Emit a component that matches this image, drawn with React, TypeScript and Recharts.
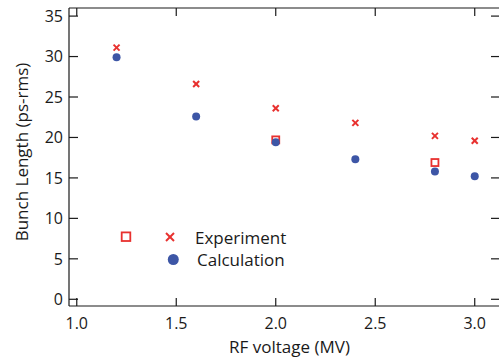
import { ScatterChart, Scatter, XAxis, YAxis } from "recharts";

// bunch length vs RF voltage
const VOLTAGE = [1.2, 1.6, 2.0, 2.4, 2.8, 3.0];
const EXPERIMENT = [31.1, 26.6, 23.6, 21.8, 20.2, 19.6];
const CALCULATION = [29.9, 22.6, 19.4, 17.3, 15.8, 15.2];
// the two open squares
const SQUARE_VOLTAGE = [2.0, 2.8];
const SQUARE_LENGTH = [19.7, 16.9];

const X_TICKS = [1.0, 1.5, 2.0, 2.5, 3.0];
const Y_TICKS = [0, 5, 10, 15, 20, 25, 30, 35];
const X_DOMAIN = [0.961, 3.127];
const Y_DOMAIN = [-0.83, 36];

const RED = "#e8312f";
const BLUE = "#3d56a6";
const INK = "#1a1a1a";
const FONT = "'Open Sans', sans-serif";

const expData = VOLTAGE.map((v, i) => ({ v, l: EXPERIMENT[i] }));
const calcData = VOLTAGE.map((v, i) => ({ v, l: CALCULATION[i] }));
const sqData = SQUARE_VOLTAGE.map((v, i) => ({ v, l: SQUARE_LENGTH[i] }));

const TICK = { fill: INK, fontSize: 16, fontFamily: FONT } as const;
const AXIS_LINE = { stroke: INK, strokeWidth: 1.2 } as const;

function Cross({ cx, cy, r = 3 }: any) {
  return (
    <g stroke={RED} strokeWidth={2}>
      <line x1={cx - r} y1={cy - r} x2={cx + r} y2={cy + r} />
      <line x1={cx - r} y1={cy + r} x2={cx + r} y2={cy - r} />
    </g>
  );
}

function Square({ cx, cy, r = 3.5 }: any) {
  return <rect x={cx - r} y={cy - r} width={2 * r} height={2 * r} fill="#fff" stroke={RED} strokeWidth={1.8} />;
}

function Dot({ cx, cy, r = 4 }: any) {
  return <circle cx={cx} cy={cy} r={r} fill={BLUE} />;
}

const noLabel = () => <g />;

export default function App() {
  return (
    <div style={{ position: "relative", width: 499, height: 361, overflow: "hidden", background: "#fff" }}>
      <style>{"body{margin:0}"}</style>
      <ScatterChart width={501} height={361} margin={{ top: 0, right: 0, bottom: 0, left: 0 }}>
        <XAxis
          type="number"
          dataKey="v"
          domain={X_DOMAIN}
          ticks={X_TICKS}
          allowDataOverflow
          tickFormatter={(v) => Number(v).toFixed(1)}
          tick={TICK}
          axisLine={AXIS_LINE}
          tickLine={AXIS_LINE}
          tickSize={-8}
          tickMargin={20}
          height={55}
          label={{ value: "RF voltage (MV)", position: "insideBottom", offset: 8, dx: 5, fill: INK, fontSize: 17, fontFamily: FONT }}
        />
        <XAxis
          xAxisId="top"
          orientation="top"
          type="number"
          dataKey="v"
          domain={X_DOMAIN}
          ticks={X_TICKS}
          allowDataOverflow
          tick={noLabel}
          axisLine={AXIS_LINE}
          tickLine={AXIS_LINE}
          tickSize={-8}
          height={8}
        />
        <YAxis
          type="number"
          dataKey="l"
          domain={Y_DOMAIN}
          ticks={Y_TICKS}
          allowDataOverflow
          tick={TICK}
          axisLine={AXIS_LINE}
          tickLine={AXIS_LINE}
          tickSize={-9}
          tickMargin={15}
          width={69}
          label={{ value: "Bunch Length (ps-rms)", angle: -90, position: "center", dx: -13, dy: -5, fill: INK, fontSize: 17, fontFamily: FONT }}
        />
        <YAxis
          yAxisId="right"
          orientation="right"
          type="number"
          dataKey="l"
          domain={Y_DOMAIN}
          ticks={Y_TICKS}
          allowDataOverflow
          tick={noLabel}
          axisLine={AXIS_LINE}
          tickLine={AXIS_LINE}
          tickSize={-9}
          width={1}
        />
        <Scatter data={sqData} shape={<Square />} isAnimationActive={false} />
        <Scatter data={calcData} shape={<Dot />} isAnimationActive={false} />
        <Scatter data={expData} shape={<Cross />} isAnimationActive={false} />
      </ScatterChart>
      {/* legend */}
      <svg width={200} height={50} style={{ position: "absolute", left: 110, top: 222 }}>
        <Square cx={16} cy={14.7} r={4.3} />
        <Cross cx={60} cy={15} r={4} />
        <text x={85} y={15} dominantBaseline="central" fontSize={17} fontFamily={FONT} fill={INK}>Experiment</text>
        <Dot cx={63.3} cy={37.5} r={5.5} />
        <text x={87} y={37.5} dominantBaseline="central" fontSize={17} fontFamily={FONT} fill={INK}>Calculation</text>
      </svg>
    </div>
  );
}
